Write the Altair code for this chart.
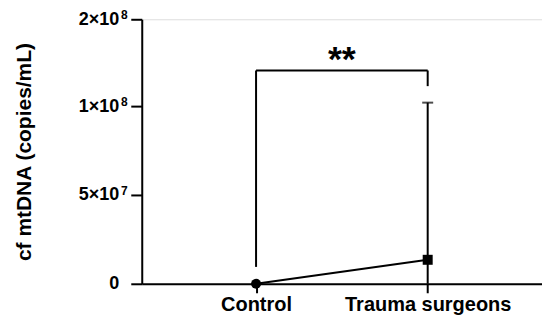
import altair as alt
import pandas as pd
import json

groups = ["Control", "Trauma surgeons"]
means = [0.0, 1.35e7]
err_low = [0.0, 0.0]
err_high = [0.0, 1.04e8]
markers = ["circle", "square"]

tick_values = [0, 5e7, 1e8, 2e8]
tick_mantissa = ["0", "5×10", "1×10", "2×10"]
tick_exponent = ["", "7", "8", "8"]

bracket_y = 1.41e8
bracket_left_bottom = 9.5e6
bracket_right_bottom = 1.23e8
sig_label = "**"

idx = list(range(len(groups)))
df = pd.DataFrame({"i": idx, "group": groups, "mean": means,
                   "lo": err_low, "hi": err_high, "shape": markers})

FONT = "Liberation Sans"

label_map = json.dumps({str(int(v)): l for v, l in zip(tick_values, tick_mantissa)})
group_map = json.dumps({str(i): g for i, g in zip(idx, groups)})

XMIN = -0.666
xscale = alt.Scale(domain=[XMIN, len(groups) - 1 + 0.666], nice=False, zero=False)
yscale = alt.Scale(domain=[0, 1e8, 2e8], range=[265, 87, 0], nice=False, zero=False)

xaxis = alt.Axis(values=idx, labelExpr=f"{group_map}[format(datum.value, 'd')]",
                 title=None, grid=False, labelFont=FONT, labelFontWeight="bold",
                 labelFontSize=20, labelColor="black", domainColor="black",
                 domainWidth=2, tickColor="black", tickWidth=2, tickSize=9,
                 labelPadding=2)
yaxis = alt.Axis(values=tick_values, labelExpr=f"{label_map}[format(datum.value, 'd')]",
                 title="cf mtDNA (copies/mL)", grid=False, labelFont=FONT,
                 labelFontWeight="bold", labelFontSize=18, labelColor="black",
                 domainColor="black", domainWidth=2, tickColor="black", tickWidth=2,
                 tickSize=11, labelPadding=12, titleFont=FONT, titleFontWeight="bold",
                 titleFontSize=21, titleColor="black", titlePadding=44)

base = alt.Chart(df)

errbar = base.mark_rule(color="black", strokeWidth=2).encode(
    x=alt.X("i:Q", scale=xscale, axis=xaxis),
    y=alt.Y("lo:Q", scale=yscale, axis=yaxis),
    y2="hi:Q",
).transform_filter("datum.hi > datum.lo")

cap = base.mark_tick(color="black", thickness=2, size=11, orient="horizontal").encode(
    x=alt.X("i:Q", scale=xscale),
    y=alt.Y("hi:Q", scale=yscale),
).transform_filter("datum.hi > datum.lo")

line = base.mark_line(color="black", strokeWidth=2).encode(
    x=alt.X("i:Q", scale=xscale),
    y=alt.Y("mean:Q", scale=yscale),
)

pts = base.mark_point(filled=True, color="black", opacity=1, size=100).encode(
    x=alt.X("i:Q", scale=xscale),
    y=alt.Y("mean:Q", scale=yscale),
    shape=alt.Shape("shape:N", scale=None, legend=None),
)

br = pd.DataFrame({
    "x": [0, 0, 1],
    "x2": [0, 1, 1],
    "y": [bracket_left_bottom, bracket_y, bracket_right_bottom],
    "y2": [bracket_y, bracket_y, bracket_y],
})
bracket = alt.Chart(br).mark_rule(color="black", strokeWidth=2).encode(
    x=alt.X("x:Q", scale=xscale), x2="x2:Q",
    y=alt.Y("y:Q", scale=yscale), y2="y2:Q",
)

stars = alt.Chart(pd.DataFrame({"x": [0.5], "y": [bracket_y], "t": [sig_label]})).mark_text(
    font=FONT, fontWeight="bold", fontSize=36, color="black", baseline="alphabetic", dy=0
).encode(
    x=alt.X("x:Q", scale=xscale),
    y=alt.Y("y:Q", scale=yscale),
    text="t:N",
)

exp_df = pd.DataFrame({"x": [XMIN] * len(tick_values), "y": tick_values, "t": tick_exponent})
exps = alt.Chart(exp_df).mark_text(
    font=FONT, fontWeight="bold", fontSize=12, color="black", align="right",
    baseline="middle", dx=-14, dy=-4, clip=False
).encode(
    x=alt.X("x:Q", scale=xscale),
    y=alt.Y("y:Q", scale=yscale),
    text="t:N",
)

chart = alt.layer(errbar, cap, bracket, line, pts, stars, exps).properties(
    width=401, height=265,
    autosize=alt.AutoSizeParams(type="none"),
    padding={"left": 134, "top": 11, "right": 0, "bottom": 39},
).configure_view(stroke=None).configure(background="white")

chart.save("out.html", embed_options={"renderer": "svg", "actions": False})
